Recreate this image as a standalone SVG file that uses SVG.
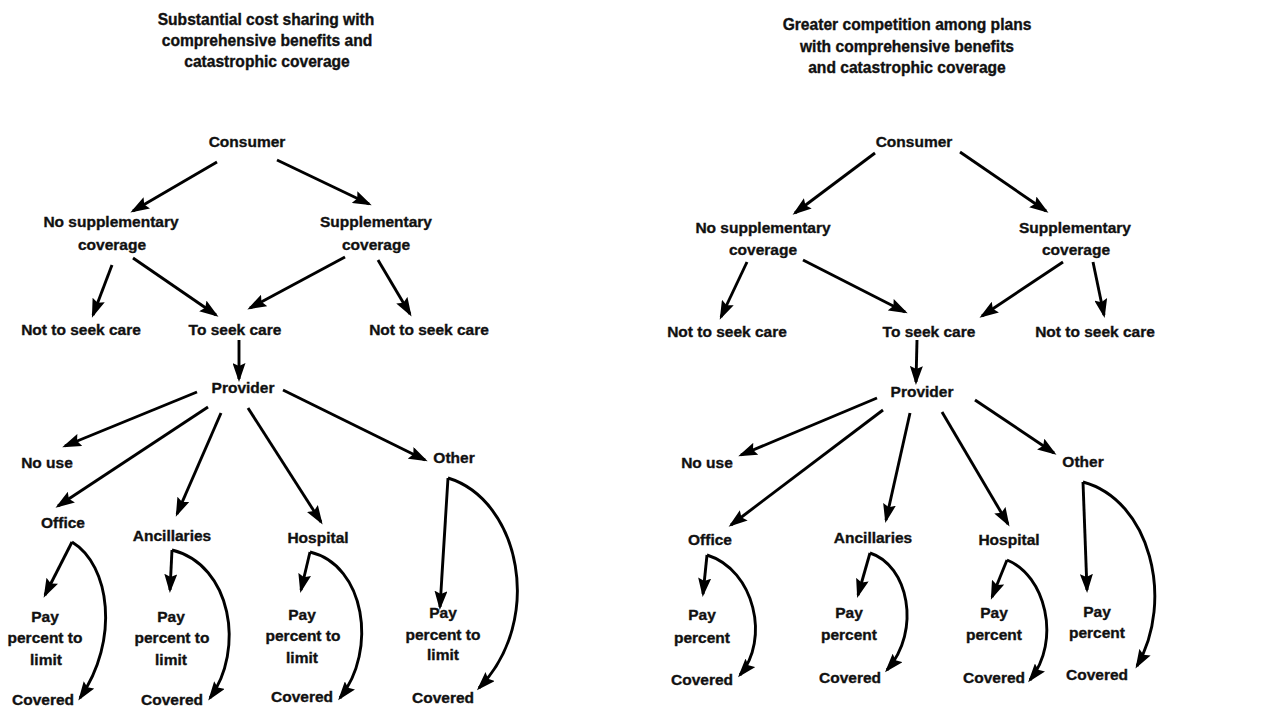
<svg xmlns="http://www.w3.org/2000/svg" width="1276" height="712" viewBox="0 0 1276 712">
<defs>
<style>
text{font-family:"Liberation Sans",Arial,Helvetica,sans-serif;font-weight:bold;fill:#111;stroke:#111;stroke-width:0.35;text-anchor:middle;font-size:15.5px}
.title{font-size:15.6px}
.c{fill:none;stroke:#000;stroke-width:2.9;marker-end:url(#ah)}
</style>
<marker id="ah" markerUnits="userSpaceOnUse" viewBox="0 0 19 13" markerWidth="19" markerHeight="13" refX="16" refY="6.5" orient="auto">
<path d="M0,0 L19,6.5 L0,13 L3,6.5 z" fill="#000"/>
</marker>
</defs>
<rect width="1276" height="712" fill="#fff"/>

<g id="left-title"><text class="title" x="266" y="25">Substantial cost sharing with</text><text class="title" x="267" y="46">comprehensive benefits and</text><text class="title" x="267" y="67">catastrophic coverage</text></g>
<g id="right-title"><text class="title" x="907" y="30">Greater competition among plans</text><text class="title" x="907" y="52">with comprehensive benefits</text><text class="title" x="907" y="73">and catastrophic coverage</text></g>

<!-- Left panel nodes -->
<g id="L-consumer"><text x="247" y="147">Consumer</text></g>
<g id="L-nosupp"><text x="111" y="227">No supplementary</text><text x="112" y="250">coverage</text></g>
<g id="L-supp"><text x="376" y="227">Supplementary</text><text x="376" y="250">coverage</text></g>
<g id="L-notseek1"><text x="81" y="335">Not to seek care</text></g>
<g id="L-seek"><text x="235" y="335">To seek care</text></g>
<g id="L-notseek2"><text x="429" y="335">Not to seek care</text></g>
<g id="L-provider"><text x="243" y="393">Provider</text></g>
<g id="L-nouse"><text x="47" y="468">No use</text></g>
<g id="L-office"><text x="63" y="528">Office</text></g>
<g id="L-anc"><text x="172" y="541">Ancillaries</text></g>
<g id="L-hosp"><text x="318" y="543">Hospital</text></g>
<g id="L-other"><text x="454" y="463">Other</text></g>
<g id="L-office-pay"><text x="45" y="622">Pay</text><text x="45" y="643">percent to</text><text x="46" y="665">limit</text></g>
<g id="L-office-cov"><text x="43" y="705">Covered</text></g>
<g id="L-anc-pay"><text x="171" y="622">Pay</text><text x="172" y="643">percent to</text><text x="171" y="665">limit</text></g>
<g id="L-anc-cov"><text x="172" y="705">Covered</text></g>
<g id="L-hosp-pay"><text x="302" y="620">Pay</text><text x="303" y="641">percent to</text><text x="302" y="663">limit</text></g>
<g id="L-hosp-cov"><text x="302" y="702">Covered</text></g>
<g id="L-other-pay"><text x="443" y="618">Pay</text><text x="443" y="640">percent to</text><text x="443" y="660">limit</text></g>
<g id="L-other-cov"><text x="443" y="703">Covered</text></g>

<!-- Right panel nodes -->
<g id="R-consumer"><text x="914" y="147">Consumer</text></g>
<g id="R-nosupp"><text x="763" y="233">No supplementary</text><text x="763" y="255">coverage</text></g>
<g id="R-supp"><text x="1075" y="233">Supplementary</text><text x="1076" y="255">coverage</text></g>
<g id="R-notseek1"><text x="727" y="337">Not to seek care</text></g>
<g id="R-seek"><text x="929" y="337">To seek care</text></g>
<g id="R-notseek2"><text x="1095" y="337">Not to seek care</text></g>
<g id="R-provider"><text x="922" y="397">Provider</text></g>
<g id="R-nouse"><text x="707" y="468">No use</text></g>
<g id="R-office"><text x="710" y="545">Office</text></g>
<g id="R-anc"><text x="873" y="543">Ancillaries</text></g>
<g id="R-hosp"><text x="1009" y="545">Hospital</text></g>
<g id="R-other"><text x="1083" y="467">Other</text></g>
<g id="R-office-pay"><text x="702" y="620">Pay</text><text x="702" y="643">percent</text></g>
<g id="R-office-cov"><text x="702" y="685">Covered</text></g>
<g id="R-anc-pay"><text x="849" y="618">Pay</text><text x="849" y="640">percent</text></g>
<g id="R-anc-cov"><text x="850" y="683">Covered</text></g>
<g id="R-hosp-pay"><text x="994" y="618">Pay</text><text x="994" y="640">percent</text></g>
<g id="R-hosp-cov"><text x="994" y="683">Covered</text></g>
<g id="R-other-pay"><text x="1097" y="617">Pay</text><text x="1097" y="638">percent</text></g>
<g id="R-other-cov"><text x="1097" y="680">Covered</text></g>

<g id="connectors">
<!-- left -->
<path class="c" d="M217,162 L133,211"/>
<path class="c" d="M277,160 L369,204"/>
<path class="c" d="M112,265 L93,315"/>
<path class="c" d="M133,258 L216,315"/>
<path class="c" d="M345,257 L250,308"/>
<path class="c" d="M378,260 L410,314"/>
<path class="c" d="M239,340 L239,379"/>
<path class="c" d="M197,392 L65,446"/>
<path class="c" d="M208,407 L58,506"/>
<path class="c" d="M221,413 L177,514"/>
<path class="c" d="M248,408 L321,522"/>
<path class="c" d="M283,390 L425,460"/>
<path class="c" d="M72,542 L45,595"/>
<path class="c" d="M72,542 C110,565 120,640 80,698"/>
<path class="c" d="M172,550 L170,590"/>
<path class="c" d="M172,550 C232,565 245,650 210,698"/>
<path class="c" d="M310,552 L301,590"/>
<path class="c" d="M310,552 C365,565 378,650 340,698"/>
<path class="c" d="M448,478 L440,607"/>
<path class="c" d="M448,478 C520,500 545,620 479,688"/>
<!-- right -->
<path class="c" d="M875,153 L795,213"/>
<path class="c" d="M960,152 L1046,211"/>
<path class="c" d="M747,262 L721,317"/>
<path class="c" d="M803,260 L905,312"/>
<path class="c" d="M1063,262 L982,316"/>
<path class="c" d="M1093,262 L1104,315"/>
<path class="c" d="M917,340 L916,382"/>
<path class="c" d="M877,398 L741,455"/>
<path class="c" d="M883,410 L731,525"/>
<path class="c" d="M910,413 L886,520"/>
<path class="c" d="M942,412 L1008,524"/>
<path class="c" d="M975,400 L1054,453"/>
<path class="c" d="M707,555 L703,594"/>
<path class="c" d="M707,555 C755,570 770,640 740,675"/>
<path class="c" d="M870,553 L858,595"/>
<path class="c" d="M870,553 C908,565 922,630 887,670"/>
<path class="c" d="M1007,560 L992,597"/>
<path class="c" d="M1007,560 C1045,575 1062,640 1030,680"/>
<path class="c" d="M1083,482 L1087,590"/>
<path class="c" d="M1083,482 C1150,500 1175,600 1137,666"/>
</g>
</svg>
